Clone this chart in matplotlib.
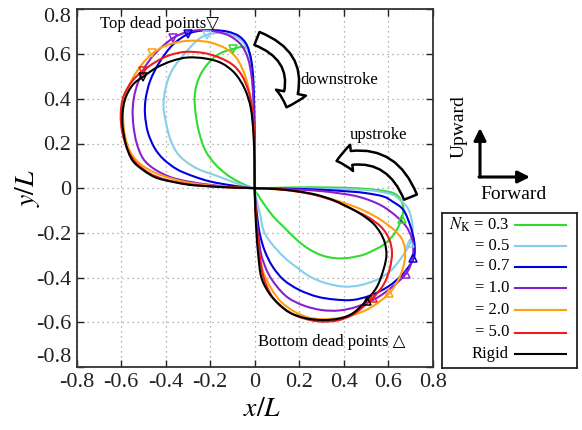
import matplotlib
matplotlib.use("Agg")
import matplotlib.pyplot as plt
from matplotlib.patches import FancyArrowPatch, ArrowStyle, PathPatch
from matplotlib.path import Path
from matplotlib.transforms import ScaledTranslation
import numpy as np

plt.rcParams['font.family'] = ['Liberation Serif', 'DejaVu Sans']
plt.rcParams['mathtext.fontset'] = 'stix'

# ---------------- data (x/L, y/L) ----------------
labels = [r"$N_\mathrm{K}$ = 0.3", "= 0.5", "= 0.7", "= 1.0", "= 2.0", "= 5.0", "Rigid"]
colors = ["#2fdc2f", "#87ceeb", "#0000e0", "#8a1fd0", "#ffa010", "#ee1c1c", "#000000"]

x_nk03 = [0, -0.02, -0.044, -0.09, -0.133, -0.18, -0.223, -0.25, -0.265, -0.27, -0.262, -0.24, -0.21, -0.178, -0.14, -0.097, -0.06, -0.035, -0.02, -0.013, -0.008, -0.005, -0.003, -0.001,
          0, 0.015, 0.039, 0.084, 0.129, 0.189, 0.24, 0.3, 0.36, 0.42, 0.488, 0.54, 0.578, 0.615, 0.638, 0.66, 0.668, 0.655, 0.623, 0.55, 0.45, 0.35, 0.25, 0.15, 0.07]
y_nk03 = [0, 0.005, 0.015, 0.038, 0.067, 0.11, 0.171, 0.25, 0.33, 0.4, 0.46, 0.515, 0.557, 0.589, 0.61, 0.623, 0.632, 0.625, 0.595, 0.53, 0.45, 0.35, 0.25, 0.12,
          0, -0.03, -0.067, -0.127, -0.172, -0.231, -0.27, -0.3, -0.313, -0.312, -0.298, -0.275, -0.254, -0.22, -0.187, -0.139, -0.09, -0.05, -0.022, -0.008, 0, 0.003, 0.004, 0.003, 0.001]

x_nk05 = [0, -0.05, -0.103, -0.17, -0.253, -0.31, -0.35, -0.38, -0.4, -0.41, -0.4, -0.37, -0.313, -0.26, -0.216, -0.15, -0.09, -0.05, -0.025, -0.01, -0.004, -0.001, 0,
          0, 0.01, 0.025, 0.039, 0.07, 0.129, 0.19, 0.249, 0.32, 0.398, 0.47, 0.548, 0.61, 0.66, 0.698, 0.71, 0.7, 0.683, 0.65, 0.623, 0.56, 0.503, 0.4, 0.25, 0.1]
y_nk05 = [0, 0.012, 0.03, 0.055, 0.085, 0.12, 0.16, 0.22, 0.3, 0.37, 0.45, 0.53, 0.604, 0.66, 0.686, 0.695, 0.68, 0.65, 0.6, 0.52, 0.4, 0.25, 0.1,
          0, -0.06, -0.12, -0.187, -0.24, -0.306, -0.355, -0.396, -0.425, -0.44, -0.435, -0.41, -0.37, -0.31, -0.246, -0.18, -0.12, -0.082, -0.05, -0.03, -0.015, -0.008, -0.004, -0.002, 0]

x_nk07 = [0, -0.1, -0.2, -0.28, -0.35, -0.41, -0.45, -0.48, -0.493, -0.49, -0.47, -0.43, -0.37, -0.3, -0.24, -0.18, -0.12, -0.07, -0.035, -0.015, -0.006, -0.002, 0,
          0, 0.008, 0.022, 0.045, 0.08, 0.13, 0.2, 0.28, 0.36, 0.44, 0.52, 0.6, 0.66, 0.7, 0.718, 0.717, 0.7, 0.668, 0.62, 0.578, 0.5, 0.428, 0.3, 0.15]
y_nk07 = [0, 0.012, 0.03, 0.055, 0.085, 0.13, 0.18, 0.25, 0.33, 0.4, 0.48, 0.56, 0.64, 0.69, 0.705, 0.707, 0.7, 0.68, 0.64, 0.57, 0.48, 0.35, 0.2,
          0, -0.1, -0.2, -0.28, -0.35, -0.41, -0.455, -0.485, -0.498, -0.5, -0.48, -0.44, -0.39, -0.34, -0.3, -0.24, -0.17, -0.097, -0.06, -0.037, -0.022, -0.015, -0.007, -0.002]

x_nk10 = [0, -0.1, -0.2, -0.3, -0.38, -0.45, -0.5, -0.53, -0.545, -0.548, -0.535, -0.5, -0.45, -0.37, -0.3, -0.24, -0.17, -0.11, -0.06, -0.03, -0.014, -0.006, -0.002, 0,
          0, 0.005, 0.015, 0.03, 0.06, 0.1, 0.15, 0.22, 0.3, 0.38, 0.46, 0.55, 0.62, 0.68, 0.705, 0.713, 0.705, 0.68, 0.638, 0.59, 0.548, 0.49, 0.428, 0.3, 0.15]
y_nk10 = [0, 0.005, 0.015, 0.03, 0.05, 0.085, 0.13, 0.2, 0.28, 0.36, 0.44, 0.53, 0.6, 0.67, 0.7, 0.707, 0.7, 0.68, 0.64, 0.58, 0.5, 0.4, 0.25, 0.1,
          0, -0.1, -0.2, -0.3, -0.38, -0.44, -0.49, -0.525, -0.545, -0.547, -0.53, -0.49, -0.44, -0.383, -0.33, -0.28, -0.22, -0.17, -0.127, -0.09, -0.067, -0.045, -0.03, -0.013, -0.004]

x_nk20 = [0, -0.1, -0.2, -0.3, -0.38, -0.45, -0.51, -0.555, -0.582, -0.592, -0.585, -0.555, -0.51, -0.463, -0.4, -0.33, -0.27, -0.2, -0.13, -0.08, -0.042, -0.018, -0.006, -0.001,
          0, 0.004, 0.01, 0.02, 0.04, 0.075, 0.12, 0.18, 0.24, 0.3, 0.37, 0.44, 0.52, 0.605, 0.65, 0.673, 0.675, 0.66, 0.63, 0.59, 0.548, 0.49, 0.428, 0.35, 0.25, 0.13]
y_nk20 = [0, 0.004, 0.012, 0.025, 0.045, 0.07, 0.105, 0.155, 0.23, 0.32, 0.4, 0.48, 0.55, 0.6, 0.638, 0.656, 0.66, 0.652, 0.625, 0.58, 0.5, 0.4, 0.28, 0.14,
          0, -0.1, -0.2, -0.3, -0.38, -0.45, -0.51, -0.553, -0.578, -0.586, -0.582, -0.568, -0.535, -0.47, -0.4, -0.33, -0.27, -0.225, -0.19, -0.158, -0.13, -0.1, -0.075, -0.05, -0.025, -0.008]

x_nk50 = [0, -0.1, -0.2, -0.3, -0.4, -0.47, -0.53, -0.57, -0.595, -0.602, -0.59, -0.55, -0.5, -0.44, -0.38, -0.31, -0.23, -0.16, -0.1, -0.058, -0.028, -0.011, -0.003, 0,
          0, 0.004, 0.012, 0.022, 0.04, 0.075, 0.12, 0.18, 0.25, 0.31, 0.38, 0.45, 0.53, 0.58, 0.607, 0.617, 0.605, 0.57, 0.51, 0.44, 0.36, 0.27, 0.18, 0.09]
y_nk50 = [0, 0.003, 0.009, 0.018, 0.038, 0.065, 0.11, 0.17, 0.25, 0.33, 0.41, 0.48, 0.527, 0.568, 0.596, 0.61, 0.605, 0.585, 0.553, 0.505, 0.435, 0.35, 0.24, 0.12,
          0, -0.1, -0.2, -0.3, -0.4, -0.48, -0.53, -0.568, -0.59, -0.597, -0.59, -0.56, -0.492, -0.43, -0.36, -0.29, -0.23, -0.175, -0.13, -0.095, -0.058, -0.03, -0.013, -0.003]

x_rigid = [0, -0.1, -0.2, -0.3, -0.4, -0.45, -0.5, -0.55, -0.58, -0.595, -0.585, -0.55, -0.5, -0.44, -0.37, -0.3, -0.22, -0.15, -0.09, -0.045, -0.018, -0.006, -0.001,
           0, 0.003, 0.008, 0.016, 0.03, 0.065, 0.11, 0.16, 0.23, 0.31, 0.38, 0.44, 0.5, 0.55, 0.58, 0.592, 0.585, 0.565, 0.535, 0.495, 0.45, 0.4, 0.35, 0.28, 0.2, 0.1]
y_rigid = [0, 0.003, 0.008, 0.016, 0.035, 0.05, 0.08, 0.125, 0.2, 0.3, 0.39, 0.46, 0.5, 0.54, 0.57, 0.585, 0.58, 0.56, 0.515, 0.445, 0.36, 0.25, 0.12,
           0, -0.1, -0.2, -0.3, -0.4, -0.47, -0.52, -0.558, -0.582, -0.59, -0.583, -0.56, -0.505, -0.44, -0.36, -0.3, -0.245, -0.2, -0.16, -0.128, -0.1, -0.075, -0.052, -0.03, -0.015, -0.004]

xs = [x_nk03, x_nk05, x_nk07, x_nk10, x_nk20, x_nk50, x_rigid]
ys = [y_nk03, y_nk05, y_nk07, y_nk10, y_nk20, y_nk50, y_rigid]

# top dead points (▽) and bottom dead points (△)
top_x = [-0.097, -0.216, -0.30, -0.367, -0.463, -0.502, -0.503]
top_y = [0.623, 0.686, 0.69, 0.672, 0.605, 0.526, 0.499]
bot_x = [0.66, 0.698, 0.713, 0.68, 0.605, 0.53, 0.503]
bot_y = [-0.139, -0.246, -0.313, -0.383, -0.47, -0.492, -0.503]

ticks = [-0.8, -0.6, -0.4, -0.2, 0, 0.2, 0.4, 0.6, 0.8]
tick_labels = ["-0.8", "-0.6", "-0.4", "-0.2", "0", "0.2", "0.4", "0.6", "0.8"]


def smooth_closed_path(x, y):
    """Closed path through the read points, drawn with cubic Bezier segments
    (Catmull-Rom tangents) so matplotlib renders a smooth loop."""
    p = np.column_stack([x, y]).astype(float)
    n = len(p)
    verts = [p[0]]
    codes = [Path.MOVETO]
    for i in range(n):
        p0, p1, p2, p3 = p[i - 1], p[i], p[(i + 1) % n], p[(i + 2) % n]
        verts += [p1 + (p2 - p0) / 6.0, p2 - (p3 - p1) / 6.0, p2]
        codes += [Path.CURVE4] * 3
    return Path(verts, codes)


# ---------------- figure ----------------
W, H = 582, 430
fig = plt.figure(figsize=(W / 100, H / 100), dpi=100)


def fx(px):
    return px / W


def fy(py):
    return 1 - py / H


ax = fig.add_axes([fx(76.7), fy(367), fx(432.7) - fx(76.7), fy(9.4) - fy(367)])
ax.set_xlim(-0.8, 0.8)
ax.set_ylim(-0.8, 0.8)
ax.set_xticks(ticks)
ax.set_yticks(ticks)
ax.set_xticklabels(tick_labels)
ax.set_yticklabels(tick_labels)
ax.tick_params(direction='in', length=5, width=1, top=True, right=True,
               labelsize=16, pad=4, colors='#222222')
for sp in ax.spines.values():
    sp.set_linewidth(1.3)
    sp.set_color('#333333')
ax.grid(True, linestyle=(0, (1, 3)), color='#9a9a9a', linewidth=0.9)

# nudge the end y tick labels inside, as in the reference
ylabs = ax.get_yticklabels()
ylabs[0].set_transform(ylabs[0].get_transform() + ScaledTranslation(0, 9 / 72, fig.dpi_scale_trans))
ylabs[-1].set_transform(ylabs[-1].get_transform() + ScaledTranslation(0, -4 / 72, fig.dpi_scale_trans))

for x, y, c in zip(xs, ys, colors):
    ax.add_patch(PathPatch(smooth_closed_path(x, y), fill=False, edgecolor=c, lw=1.5,
                           joinstyle='round', zorder=3))

for i, c in enumerate(colors):
    ax.plot(top_x[i], top_y[i], marker='v', ms=6, mfc='none', mec=c, mew=1.1, zorder=4)
    ax.plot(bot_x[i], bot_y[i], marker='^', ms=6, mfc='none', mec=c, mew=1.1, zorder=4)

ax.set_xlabel(r"$x/L$", fontsize=20)
ax.xaxis.set_label_coords(0.52, -0.085)
ax.set_ylabel(r"$y/L$", fontsize=20)
ax.yaxis.set_label_coords(-0.097, 0.5)

# annotations
ax.text(-0.695, 0.735, "Top dead points\u25BD", fontsize=12, va='center', ha='left')
ax.text(0.204, 0.485, "downstroke", fontsize=12, va='center', ha='left')
ax.text(0.429, 0.236, "upstroke", fontsize=12, va='center', ha='left')
ax.text(0.015, -0.686, "Bottom dead points \u25B3", fontsize=12, va='center', ha='left')

# curved block arrows
st1 = ArrowStyle.Simple(head_length=11, head_width=22, tail_width=10)
a1 = FancyArrowPatch((0.01, 0.67), (0.143, 0.362), arrowstyle=st1, mutation_scale=1,
                     connectionstyle="arc3,rad=-0.5", fc='white', ec='black', lw=1.8,
                     shrinkA=0, shrinkB=0, zorder=5)
ax.add_patch(a1)
st2 = ArrowStyle.Simple(head_length=11, head_width=19, tail_width=10)
a2 = FancyArrowPatch((0.70, -0.04), (0.368, 0.122), arrowstyle=st2, mutation_scale=1,
                     connectionstyle="arc3,rad=0.45", fc='white', ec='black', lw=1.8,
                     shrinkA=0, shrinkB=0, zorder=5)
ax.add_patch(a2)

# direction indicator
fig.patches.append(FancyArrowPatch((fx(480), fy(177)), (fx(480), fy(128)), transform=fig.transFigure,
                                   arrowstyle='-|>,head_length=0.6,head_width=0.3', mutation_scale=12,
                                   lw=2.2, color='black', shrinkA=0, shrinkB=0))
fig.patches.append(FancyArrowPatch((fx(479), fy(177)), (fx(530), fy(177)), transform=fig.transFigure,
                                   arrowstyle='-|>,head_length=0.6,head_width=0.3', mutation_scale=12,
                                   lw=2.2, color='black', shrinkA=0, shrinkB=0))
fig.text(fx(459), fy(127), "Upward", rotation=90, fontsize=14, ha='center', va='center')
fig.text(fx(514), fy(195), "Forward", fontsize=14, ha='center', va='center')

# legend box drawn in pixel coordinates
lax = fig.add_axes([fx(441.7), fy(368), fx(576.7) - fx(441.7), fy(212.7) - fy(368)])
lax.set_xlim(441.7, 576.7)
lax.set_ylim(368, 212.7)
lax.set_xticks([])
lax.set_yticks([])
for sp in lax.spines.values():
    sp.set_linewidth(1.3)
    sp.set_color('#222222')
row_y = [225, 245.5, 266.5, 287.5, 310, 332.5, 354]
for lab, c, ry in zip(labels, colors, row_y):
    lax.plot([515, 566], [ry, ry], color=c, lw=1.5)
    lax.text(509, ry, lab, fontsize=12, ha='right', va='center')

fig.savefig("out.png", dpi=100)
